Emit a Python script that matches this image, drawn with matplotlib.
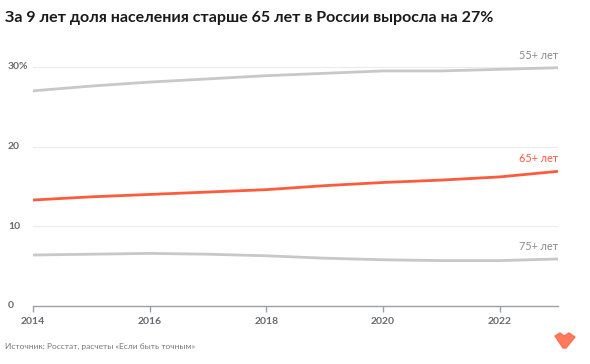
import matplotlib
matplotlib.use("Agg")
import matplotlib.pyplot as plt
from matplotlib.patches import Polygon

years = [2014, 2015, 2016, 2017, 2018, 2019, 2020, 2021, 2022, 2023]
age55 = [27.0, 27.6, 28.1, 28.5, 28.9, 29.2, 29.5, 29.5, 29.7, 29.9]
age65 = [13.3, 13.7, 14.0, 14.3, 14.6, 15.1, 15.5, 15.8, 16.2, 16.9]
age75 = [6.4, 6.5, 6.6, 6.5, 6.3, 6.0, 5.8, 5.7, 5.7, 5.9]
labels = ["55+ лет", "65+ лет", "75+ лет"]
xticks = [2014, 2016, 2018, 2020, 2022]
yticks = [0, 10, 20, 30]
ytick_labels = ["0", "10", "20", "30%"]

plt.rcParams['font.family'] = ['Lato', 'DejaVu Sans']

fig = plt.figure(figsize=(5.9, 3.64), dpi=100)
ax = fig.add_axes([33/590, 1-306/364, (558-33)/590, (306-51)/364])

gray = "#c8c8c8"
orange = "#ff5a3c"
ax.plot(years, age55, color=gray, lw=2.0, solid_capstyle='butt')
ax.plot(years, age75, color=gray, lw=2.0, solid_capstyle='butt')
ax.plot(years, age65, color=orange, lw=2.0, solid_capstyle='butt')

ax.set_xlim(2014, 2023)
ax.set_ylim(0, 32)
ax.set_yticks(yticks[1:])
ax.set_yticklabels([])
ax.grid(axis='y', color="#ececec", lw=0.8)
ax.set_axisbelow(True)
for s in ['top', 'right', 'left']:
    ax.spines[s].set_visible(False)
ax.spines['bottom'].set_color("#9aa0a8")
ax.spines['bottom'].set_linewidth(1.0)
ax.set_xticks(xticks)
ax.tick_params(axis='x', colors="#9aa0a8", length=4, width=1, pad=4, labelsize=7.5)
ax.tick_params(axis='y', length=0)
for t in ax.get_xticklabels():
    t.set_color("#666a70"); t.set_fontweight('bold')

# y labels, left aligned near figure edge
for v, lab in zip(yticks, ytick_labels):
    ax.annotate(lab, xy=(8/590, v), xycoords=(fig.transFigure, ax.transData),
                ha='left', va='center', fontsize=7.5, color="#666a70", fontweight='bold')

offs = 0.9
ax.text(2023, age55[-1] + offs, labels[0], ha='right', va='bottom', fontsize=7.8, color="#8a8a8a")
ax.text(2023, age65[-1] + offs, labels[1], ha='right', va='bottom', fontsize=7.8, color=orange)
ax.text(2023, age75[-1] + offs, labels[2], ha='right', va='bottom', fontsize=7.8, color="#8a8a8a")

fig.text(5/590, 1-18/364, "За 9 лет доля населения старше 65 лет в России выросла на 27%",
         fontsize=11.5, fontweight='bold', color="#1a1a1a", va='center', ha='left')
fig.text(5/590, 1-346/364, "Источник: Росстат, расчеты «Если быть точным»",
         fontsize=6, color="#777777", va='center', ha='left')

# logo
def px(x, y):
    return (x/590, 1-y/364)
logo = [px(555, 336), px(560, 333), px(564, 336), px(569, 333), px(575, 337), px(566, 348), px(563, 348)]
fig.patches.append(Polygon(logo, closed=True, transform=fig.transFigure, color="#ff6a4a", alpha=0.9))

fig.savefig("out.png", dpi=100)
